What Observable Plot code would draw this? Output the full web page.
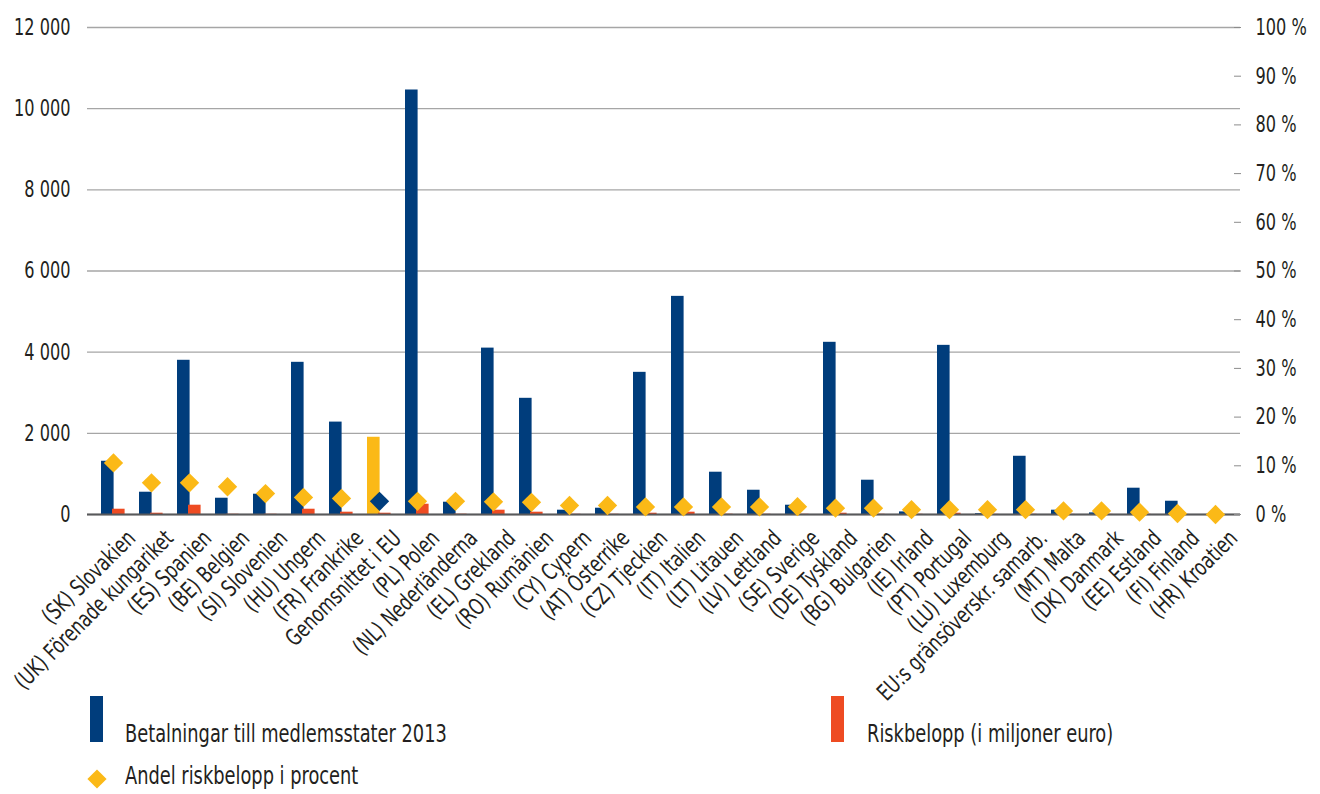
<!DOCTYPE html>
<html>
<head>
<meta charset="utf-8">
<script src="https://cdn.jsdelivr.net/npm/d3@7"></script>
<script src="https://cdn.jsdelivr.net/npm/@observablehq/plot@0.6"></script>
<style>
  html, body { margin: 0; padding: 0; background: #fff; }
  #wrap { position: relative; width: 1320px; height: 794px; overflow: hidden; font-family: "Liberation Sans Narrow", "DejaVu Sans Condensed", sans-serif; color: #231f20; }
  #chart { position: absolute; left: 0; top: 0; }
  #chart svg { display: block; }
  .legend-item { position: absolute; font-size: 24px; line-height: 1; white-space: nowrap; transform: scaleX(0.825); transform-origin: 0 50%; }
  .sw { position: absolute; }
</style>
</head>
<body>
<div id="wrap">
  <div id="chart"></div>
  <div class="sw" style="left:90px; top:696px; width:13px; height:46px; background:#003d7c;"></div>
  <div class="legend-item" style="left:125px; top:722px;">Betalningar till medlemsstater 2013</div>
  <div class="sw" style="left:831px; top:696px; width:13px; height:46px; background:#ee4b22;"></div>
  <div class="legend-item" style="left:867px; top:722px;">Riskbelopp (i miljoner euro)</div>
  <svg class="sw" style="left:86px; top:768px;" width="22" height="22" viewBox="-11 -11 22 22"><path d="M0,-9.6L9.6,0L0,9.6L-9.6,0Z" fill="#fbb917"/></svg>
  <div class="legend-item" style="left:125px; top:764px;">Andel riskbelopp i procent</div>
</div>
<script>
// Kategorier (medlemsstater, sorterade efter andel riskbelopp)
const categories = [
  "(SK) Slovakien", "(UK) Förenade kungariket", "(ES) Spanien", "(BE) Belgien",
  "(SI) Slovenien", "(HU) Ungern", "(FR) Frankrike", "Genomsnittet i EU",
  "(PL) Polen", "(NL) Nederländerna", "(EL) Grekland", "(RO) Rumänien",
  "(CY) Cypern", "(AT) Österrike", "(CZ) Tjeckien", "(IT) Italien",
  "(LT) Litauen", "(LV) Lettland", "(SE) Sverige", "(DE) Tyskland",
  "(BG) Bulgarien", "(IE) Irland", "(PT) Portugal", "(LU) Luxemburg",
  "EU:s gränsöverskr. samarb.", "(MT) Malta", "(DK) Danmark", "(EE) Estland",
  "(FI) Finland", "(HR) Kroatien"
];

// Betalningar till medlemsstater 2013 (miljoner euro)
const payments = [
  1312, 549, 3800, 401, 500, 3750, 2277, 1903,
  10460, 303, 4100, 2863, 106, 155, 3503, 5375,
  1042, 598, 229, 4243, 845, 64, 4168, 20,
  1435, 106, 40, 648, 327, 0
];

// Riskbelopp (miljoner euro)
const riskAmount = [
  130, 32, 229, 6, 6, 130, 57, 32,
  253, 8, 106, 57, 6, 6, 32, 57,
  8, 6, 6, 32, 6, 6, 32, 4,
  6, 4, 4, 6, 3, 0
];

// Andel riskbelopp i procent
const riskShare = [
  10.6, 6.5, 6.5, 5.7, 4.3, 3.5, 3.3, 2.7,
  2.7, 2.7, 2.6, 2.5, 1.85, 1.85, 1.55, 1.55,
  1.55, 1.55, 1.6, 1.3, 1.3, 1.0, 1.0, 1.0,
  1.0, 0.74, 0.74, 0.47, 0.2, 0.0
];

const leftTicks = [0, 2000, 4000, 6000, 8000, 10000, 12000];
const rightTicks = [0, 10, 20, 30, 40, 50, 60, 70, 80, 90, 100];

const NAVY = "#003d7c", RED = "#ee4b22", YELLOW = "#fbb917";
const AVERAGE = "Genomsnittet i EU";
const yMax = 12000;
const shareScale = yMax / 100; // 100 % på högeraxeln motsvarar 12 000

const rows = categories.map((cat, i) => ({
  cat, pay: payments[i], risk: riskAmount[i], share: riskShare[i]
}));

const FONT = "'Liberation Sans Narrow', 'DejaVu Sans Condensed', sans-serif";
const fmtThousands = v => d3.format(",")(v).replace(/,/g, " ");

const chart = Plot.plot({
  width: 1320,
  height: 720,
  marginTop: 27,
  marginBottom: 206,
  marginLeft: 87,
  marginRight: 80,
  style: { fontFamily: FONT, fontSize: "23px", color: "#231f20", background: "transparent" },
  x: { domain: categories, padding: 0, axis: null },
  y: { domain: [0, yMax], axis: null },
  marks: [
    Plot.ruleY(leftTicks, { stroke: "#a6a6a6", strokeWidth: 1.4 }),
    Plot.barY(rows, {
      x: "cat", y: "pay",
      fill: d => d.cat === AVERAGE ? YELLOW : NAVY,
      insetLeft: 7, insetRight: 18.4
    }),
    Plot.barY(rows, {
      x: "cat", y: "risk", fill: RED,
      insetLeft: 18, insetRight: 7.4
    }),
    Plot.ruleY([0], { stroke: "#58595b", strokeWidth: 2 }),
    Plot.dot(rows, {
      x: "cat", y: d => d.share * shareScale,
      symbol: "diamond2", r: 8.7,
      fill: d => d.cat === AVERAGE ? NAVY : YELLOW,
      stroke: null
    }),
    Plot.axisY({
      anchor: "left", ticks: leftTicks, tickSize: 0, tickPadding: 17,
      tickFormat: fmtThousands, fontSize: 23, label: null
    }),
    Plot.axisY({
      anchor: "right", ticks: rightTicks.map(p => p * shareScale),
      tickSize: -7, tickPadding: 22, stroke: "#8c8c8c",
      tickFormat: v => `${Math.round(v / shareScale)} %`, fontSize: 23, label: null
    }),
    Plot.axisX({
      anchor: "bottom", tickSize: 0, tickRotate: -45, tickPadding: 20,
      dx: 18, fontSize: 23, label: null
    })
  ]
});

// Smalare typsnitt: pressa ihop all text horisontellt kring sin förankringspunkt
chart.querySelectorAll("text").forEach(t => {
  const tr = t.getAttribute("transform");
  if (tr) {
    const s = tr.includes("rotate") ? 0.81 : 0.78;
    t.setAttribute("transform", `${tr} scale(${s},1)`);
  } else {
    const x = +(t.getAttribute("x") || 0), y = +(t.getAttribute("y") || 0);
    t.removeAttribute("x");
    t.removeAttribute("y");
    t.setAttribute("transform", `translate(${x},${y}) scale(0.78,1)`);
  }
});

document.getElementById("chart").append(chart);
</script>
</body>
</html>
